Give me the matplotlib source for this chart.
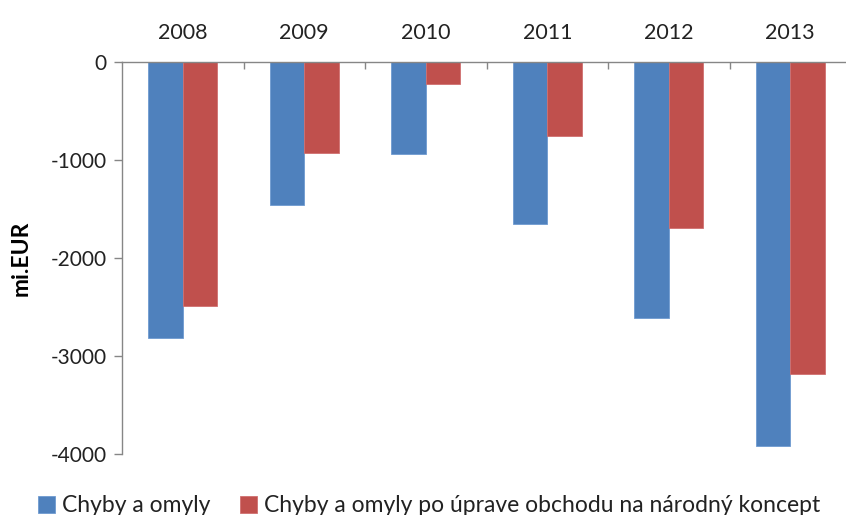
import matplotlib
matplotlib.use("Agg")
import matplotlib.pyplot as plt
import numpy as np

years = ["2008", "2009", "2010", "2011", "2012", "2013"]
chyby = [-2820, -1462, -941, -1655, -2613, -3917]
chyby_upr = [-2487, -930, -224, -757, -1696, -3183]
series_names = ["Chyby a omyly", "Chyby a omyly po úprave obchodu na národný koncept"]
yticks = [0, -1000, -2000, -3000, -4000]

plt.rcParams['font.family'] = ['Lato', 'DejaVu Sans']

fig = plt.figure(figsize=(8.46, 5.15), dpi=100)
ax = fig.add_axes([122/846, 1-454/515, (851-122)/846, (454-62)/515])

x = np.arange(len(years))
w = 0.284
blue = "#4F81BD"
red = "#C0504D"
ax.bar(x - w/2, chyby, width=w, color=blue, edgecolor="#6F9AD0", linewidth=0.6, label=series_names[0])
ax.bar(x + w/2, chyby_upr, width=w, color=red, edgecolor="#D07070", linewidth=0.6, label=series_names[1])

ax.set_xlim(-0.5, len(years) - 0.5)
ax.set_ylim(-4000, 0)
ax.set_yticks(yticks)
ax.set_yticklabels([str(v) for v in yticks], fontsize=15, color="#222222")

ax.xaxis.tick_top()
ax.set_xticks(x)
ax.set_xticklabels(years, fontsize=15.5, color="#222222")
ax.tick_params(axis='x', which='major', length=0, pad=14)
ax.set_xticks(np.arange(0.5, len(years) - 0.5, 1), minor=True)
ax.tick_params(axis='x', which='minor', direction='in', length=5, color="#868686", width=1)
ax.tick_params(axis='y', direction='out', length=6, color="#868686", width=1, pad=5)

for s in ['right', 'bottom']:
    ax.spines[s].set_visible(False)
for s in ['left', 'top']:
    ax.spines[s].set_color("#868686")
    ax.spines[s].set_linewidth(1)

ax.set_ylabel("mi.EUR", fontsize=16.5, fontweight='bold')
ax.yaxis.set_label_coords(-0.124, 0.5)

fig.legend(loc='center', bbox_to_anchor=(0.507, 0.018), ncol=2, frameon=False,
           fontsize=16.5, handlelength=0.75, handleheight=0.75, handletextpad=0.3,
           columnspacing=1.3, labelcolor="#222222")

fig.savefig("out.png", dpi=100)
